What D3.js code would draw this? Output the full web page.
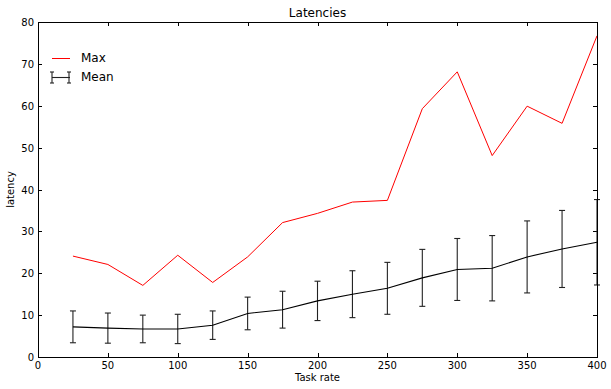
<!DOCTYPE html>
<html>
<head>
<meta charset="utf-8">
<script src="https://cdn.jsdelivr.net/npm/d3@7"></script>
<style>
  body { margin: 0; background: #fff; }
  text { font-family: "DejaVu Sans", sans-serif; }
</style>
</head>
<body>
<script>
// données
const taskRates = [25, 50, 75, 100, 125, 150, 175, 200, 225, 250, 275, 300, 325, 350, 375, 400]
const maxLatency = [24.1, 22.1, 17.1, 24.3, 17.8, 23.9, 32.1, 34.3, 37.0, 37.4, 59.3, 68.1, 48.1, 59.9, 55.8, 76.7]
const meanLatency = [7.2, 6.9, 6.7, 6.7, 7.6, 10.4, 11.3, 13.4, 15.0, 16.4, 18.9, 20.9, 21.2, 23.9, 25.8, 27.4]
const errLatency = [3.8, 3.6, 3.3, 3.5, 3.4, 3.9, 4.4, 4.7, 5.6, 6.2, 6.8, 7.4, 7.8, 8.6, 9.2, 10.2]
const xTicks = [0, 50, 100, 150, 200, 250, 300, 350, 400]
const yTicks = [0, 10, 20, 30, 40, 50, 60, 70, 80]

const W = 611, H = 389
const mLeft = 38, mRight = 597, mTop = 22, mBottom = 357

var svg = d3.select("body")
        .append("svg")
        .attr("width", W)
        .attr("height", H)

const x = d3.scaleLinear().domain([0, 400]).range([mLeft, mRight])
const y = d3.scaleLinear().domain([0, 80]).range([mBottom, mTop])

// graduations (vers l'intérieur, sur les quatre côtés)
const ticks = svg.append("g").attr("stroke", "#000").attr("stroke-width", 1)
xTicks.forEach(t => {
        const px = Math.round(x(t)) + 0.5
        ticks.append("line").attr("x1", px).attr("x2", px).attr("y1", mBottom).attr("y2", mBottom - 4)
        ticks.append("line").attr("x1", px).attr("x2", px).attr("y1", mTop).attr("y2", mTop + 4)
        svg.append("text").attr("x", x(t)).attr("y", mBottom + 12)
                .attr("text-anchor", "middle").attr("font-size", 10).text(t)
})
yTicks.forEach(t => {
        const py = Math.round(y(t)) + 0.5
        ticks.append("line").attr("x1", mLeft).attr("x2", mLeft + 4).attr("y1", py).attr("y2", py)
        ticks.append("line").attr("x1", mRight).attr("x2", mRight - 4).attr("y1", py).attr("y2", py)
        svg.append("text").attr("x", mLeft - 4).attr("y", y(t) + 4)
                .attr("text-anchor", "end").attr("font-size", 10).text(t)
})

// barres d'erreur
const eb = svg.append("g").attr("stroke", "#222").attr("stroke-width", 1.1)
taskRates.forEach((r, i) => {
        const px = x(r)
        const y1 = y(meanLatency[i] + errLatency[i]), y2 = y(meanLatency[i] - errLatency[i])
        eb.append("line").attr("x1", px).attr("x2", px).attr("y1", y1).attr("y2", y2)
        eb.append("line").attr("x1", px - 3).attr("x2", px + 3).attr("y1", y1).attr("y2", y1)
        eb.append("line").attr("x1", px - 3).attr("x2", px + 3).attr("y1", y2).attr("y2", y2)
})

const line = d3.line().x((d, i) => x(taskRates[i])).y(d => y(d))

svg.append("path").datum(meanLatency)
        .attr("d", line).attr("fill", "none").attr("stroke", "#000").attr("stroke-width", 1.1)

svg.append("path").datum(maxLatency)
        .attr("d", line).attr("fill", "none").attr("stroke", "#ff0000").attr("stroke-width", 1)

// cadre
svg.append("rect").attr("x", mLeft + 0.5).attr("y", mTop + 0.5)
        .attr("width", mRight - mLeft).attr("height", mBottom - mTop)
        .attr("fill", "none").attr("stroke", "#000").attr("stroke-width", 1)

// textes
svg.append("text").attr("x", (mLeft + mRight) / 2).attr("y", 17)
        .attr("text-anchor", "middle").attr("font-size", 12).text("Latencies")
svg.append("text").attr("x", (mLeft + mRight) / 2).attr("y", 381)
        .attr("text-anchor", "middle").attr("font-size", 10).text("Task rate")
svg.append("text").attr("transform", "translate(14," + ((mTop + mBottom) / 2) + ") rotate(-90)")
        .attr("text-anchor", "middle").attr("font-size", 10).text("latency")

// légende
const leg = svg.append("g")
leg.append("line").attr("x1", 52).attr("x2", 70).attr("y1", 58.5).attr("y2", 58.5)
        .attr("stroke", "#ff0000").attr("stroke-width", 1)
leg.append("text").attr("x", 81).attr("y", 62).attr("font-size", 12).text("Max")
const lg = leg.append("g").attr("stroke", "#222").attr("stroke-width", 1.1)
lg.append("line").attr("x1", 52).attr("x2", 70).attr("y1", 77.5).attr("y2", 77.5)
;[52, 69].forEach(px => {
        lg.append("line").attr("x1", px).attr("x2", px).attr("y1", 72).attr("y2", 83)
        lg.append("line").attr("x1", px - 2).attr("x2", px + 2).attr("y1", 72).attr("y2", 72)
        lg.append("line").attr("x1", px - 2).attr("x2", px + 2).attr("y1", 83).attr("y2", 83)
})
leg.append("text").attr("x", 81).attr("y", 81).attr("font-size", 12).text("Mean")
</script>
</body>
</html>
